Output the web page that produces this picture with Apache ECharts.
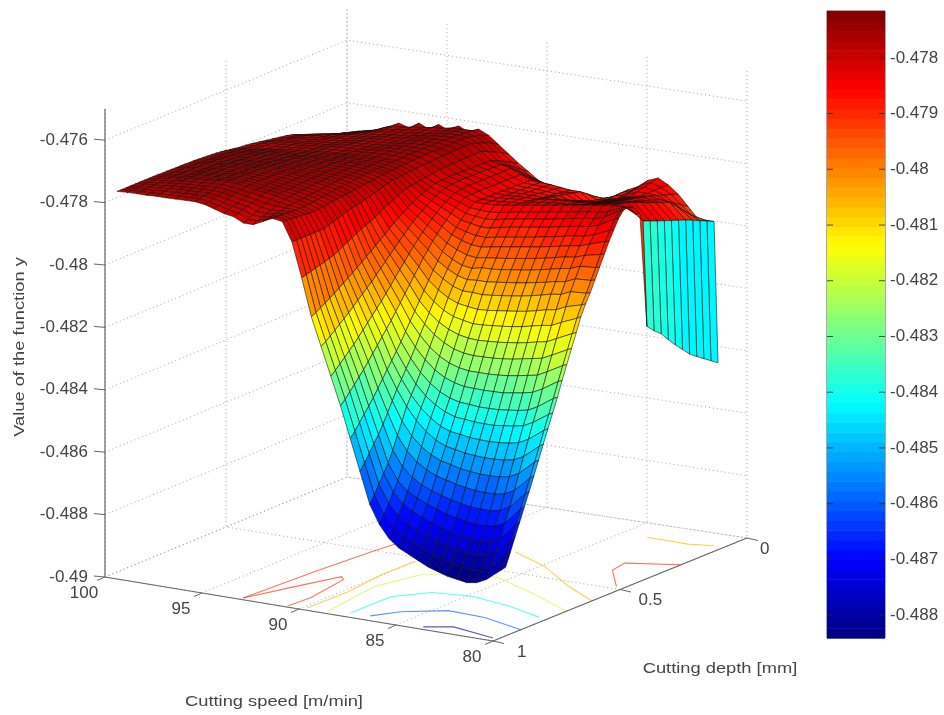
<!DOCTYPE html>
<html><head><meta charset="utf-8">
<style>html,body{margin:0;padding:0;background:#fff}#c{width:944px;height:715px;filter:blur(0.6px)}</style>
<script src="https://cdn.jsdelivr.net/npm/echarts@6/dist/echarts.min.js"></script>
</head><body><div id="c"></div>
<script>
// ---- DATA ----
const speeds=[100,99.5,99,98.5,98,97.5,97,96.5,96,95.5,95,94.5,94,93.5,93,92.5,92,91.5,91,90.5,90,89.5,89,88.5,88,87.5,87,86.5,86,85.5,85,84.5,84,83.5,83,82.5,82,81.5,81,80.2,80];
const depths=[.95,.9315,.913,.8945,.876,.8575,.839,.8205,.802,.7835,.765,.7465,.728,.7095,.691,.6725,.654,.6355,.617,.5985,.58,.5615,.543,.5245,.506,.4875,.469,.45,.422,.394,.366,.338,.31,.282,.254,.226,.198,.17,.142,.114];
// surface heights: one row per speed, one value per depth, as -(0.47 + n/100000)
const zRows=[
[780,780,780,780,780,780,780,780,780,780,781,781,781,782,782,782,783,783,784,785,786,787,788,790,792,795,797,800,802,805,809,813,817,821,825,830,840,850,860,872],
[778,778,777,777,776,776,775,775,775,776,776,777,777,777,778,778,779,780,781,782,783,784,785,787,789,791,794,796,798,800,804,808,813,817,821,825,835,845,855,865],
[777,776,775,774,773,772,771,770,770,771,771,772,772,772,773,773,774,775,776,777,779,780,781,783,785,787,790,792,794,796,800,804,807,811,815,819,828,837,846,855],
[777,775,774,772,771,769,768,766,767,767,768,768,769,769,770,770,771,772,773,775,776,777,778,780,782,784,786,789,791,793,796,800,803,807,810,814,823,832,841,850],
[775,773,771,769,766,764,762,760,761,761,762,763,763,764,764,765,766,768,769,771,772,774,775,777,779,781,783,786,788,790,793,797,800,803,807,810,816,822,829,835],
[775,772,770,767,765,762,760,757,758,758,759,760,760,761,761,762,763,765,766,768,769,771,772,774,776,778,780,782,784,786,789,792,795,799,802,805,811,817,822,828],
[774,771,769,766,763,761,758,755,756,756,757,758,758,759,759,760,761,763,764,766,767,769,770,772,774,776,778,779,781,783,786,789,792,794,797,800,805,810,815,820],
[773,770,767,764,761,758,755,752,753,754,754,755,756,756,757,758,759,761,762,764,765,767,768,770,772,774,775,777,779,780,783,786,788,791,793,796,798,800,802,805],
[772,769,766,763,760,756,753,750,751,751,752,752,753,754,754,755,756,758,759,761,762,764,765,766,768,769,771,772,774,775,778,780,783,785,788,790,791,792,792,790],
[776,773,769,766,762,759,756,752,753,753,753,754,754,754,755,755,756,757,758,760,761,762,763,764,766,767,768,769,771,772,774,777,779,781,784,786,787,788,789,800],
[785,781,777,772,768,764,760,755,755,755,755,755,755,755,755,755,756,757,758,759,760,761,762,763,764,765,766,768,769,770,772,774,776,778,780,782,783,784,784,780],
[795,790,785,780,775,770,765,760,760,759,759,759,758,758,757,757,758,758,759,759,760,760,761,762,763,764,765,766,767,768,770,772,774,775,777,779,780,780,781,795],
[800,795,790,785,780,775,770,765,764,764,763,762,762,761,761,760,760,760,760,760,760,760,760,761,761,762,763,763,764,765,767,769,770,772,773,775,775,775,775,775],
[815,809,802,796,789,783,776,770,769,768,767,766,765,764,763,762,762,762,761,761,761,760,760,760,761,761,761,762,762,762,763,765,766,767,769,770,771,772,773,790],
[815,809,803,798,792,786,781,775,774,772,771,770,769,767,766,765,764,764,763,762,762,761,760,760,760,760,760,760,760,760,761,762,763,763,764,765,766,767,767,770],
[800,797,795,792,790,787,785,782,780,779,777,775,774,773,771,770,769,768,766,765,764,763,762,762,762,761,761,761,760,760,760,761,761,761,762,762,763,764,766,785],
[785,786,786,787,788,789,789,790,788,786,784,782,780,778,776,775,773,772,770,769,768,766,765,764,764,763,762,762,761,760,760,760,760,760,760,760,762,764,766,770],
[790,791,793,794,796,797,799,800,798,796,794,792,790,788,786,785,783,781,779,778,776,774,772,771,770,769,768,767,766,765,764,764,764,763,763,762,765,770,777,785],
[850,850,850,850,850,850,850,850,845,840,835,830,825,820,817,815,810,806,802,797,793,789,785,784,782,781,779,778,776,775,774,773,772,772,771,770,778,786,796,810],
[960,956,952,947,943,939,934,930,922,914,906,898,890,882,876,870,862,854,846,838,831,823,815,812,809,806,804,801,798,795,794,793,792,792,791,790,800,810,822,835],
[1080,1072,1063,1054,1044,1035,1024,1014,1003,993,982,971,959,948,936,924,912,900,888,877,867,857,848,840,832,826,820,815,813,812,812,813,813,814,814,815,825,836,848,860],
[1170,1160,1148,1136,1123,1111,1098,1084,1070,1056,1042,1029,1013,998,982,966,951,935,920,906,892,880,868,858,847,839,832,825,822,820,820,821,821,821,822,822,835,850,866,882],
[1260,1247,1232,1218,1203,1188,1171,1154,1137,1120,1103,1086,1067,1048,1028,1009,990,971,952,935,918,903,888,875,863,852,844,835,832,830,830,830,830,830,830,830,848,866,885,905],
[1350,1335,1317,1300,1282,1264,1244,1224,1204,1183,1163,1143,1120,1098,1075,1052,1029,1007,984,964,943,926,908,893,878,865,855,845,844,843,843,844,844,844,845,845,862,880,897,915],
[1450,1432,1411,1390,1370,1349,1325,1301,1277,1254,1230,1206,1179,1152,1126,1099,1072,1045,1019,995,971,950,929,912,894,879,867,855,855,855,855,856,856,857,857,858,875,893,911,930],
[1550,1529,1505,1480,1456,1429,1398,1366,1335,1309,1281,1254,1224,1192,1162,1132,1102,1071,1041,1015,991,966,942,921,900,883,869,855,855,855,856,857,857,858,859,860,878,898,918,938],
[1650,1626,1598,1570,1543,1507,1466,1426,1385,1355,1325,1294,1259,1225,1191,1157,1125,1091,1060,1032,1005,978,951,928,906,887,871,855,853,852,854,855,857,859,860,862,882,903,924,945],
[1710,1684,1654,1624,1594,1555,1511,1468,1425,1391,1358,1324,1287,1249,1212,1175,1140,1104,1070,1040,1010,982,954,929,905,884,867,850,850,850,853,855,858,861,863,866,888,911,933,955],
[1750,1722,1689,1657,1623,1584,1541,1498,1455,1418,1382,1346,1306,1266,1227,1187,1147,1109,1070,1037,1003,977,948,923,898,877,861,845,848,850,853,857,860,863,867,870,893,915,938,960],
[1775,1745,1710,1676,1640,1603,1561,1519,1478,1439,1399,1361,1318,1276,1235,1193,1153,1113,1072,1037,1002,973,943,918,892,872,856,840,840,840,845,850,855,860,865,870,886,903,919,935],
[1790,1759,1725,1690,1653,1617,1575,1533,1492,1451,1410,1369,1325,1281,1238,1195,1152,1111,1069,1033,999,969,938,913,887,867,851,835,835,835,845,855,865,875,885,895,900,905,910,915],
[1805,1774,1738,1702,1664,1626,1583,1540,1498,1455,1413,1371,1326,1281,1237,1193,1149,1107,1065,1029,994,964,933,908,882,862,846,830,831,832,842,853,863,874,884,895,894,893,891,890],
[1820,1788,1751,1715,1675,1636,1592,1548,1504,1460,1416,1374,1327,1281,1236,1191,1146,1103,1061,1025,990,959,928,903,877,857,841,825,828,830,840,850,860,870,880,890,886,883,879,875],
[1830,1797,1760,1723,1682,1642,1597,1552,1507,1462,1417,1374,1326,1279,1233,1187,1142,1099,1056,1020,985,954,923,897,872,852,836,820,825,830,838,845,853,860,868,875,869,863,856,850],
[1840,1806,1768,1730,1689,1648,1602,1555,1509,1463,1417,1373,1325,1276,1229,1183,1137,1094,1050,1014,979,948,917,891,866,846,831,815,822,830,835,840,845,850,855,860,855,849,844,838],
[1845,1811,1772,1734,1691,1649,1603,1555,1508,1461,1413,1369,1320,1271,1223,1177,1130,1087,1043,1008,972,941,911,885,860,840,826,810,816,822,828,833,839,844,850,855,855,855,855,855],
[1850,1816,1776,1737,1693,1650,1603,1554,1506,1458,1409,1365,1315,1265,1217,1170,1123,1079,1035,1001,965,934,904,879,854,834,820,805,810,815,821,827,833,838,844,850,857,865,872,880],
[1845,1810,1771,1731,1687,1644,1597,1548,1500,1451,1403,1359,1308,1259,1211,1164,1118,1074,1031,996,960,930,900,875,850,831,817,800,805,810,818,825,833,840,848,855,870,885,900,915],
[1830,1795,1756,1716,1672,1629,1581,1532,1484,1435,1387,1343,1292,1243,1196,1149,1103,1059,1017,982,948,919,889,865,841,822,809,795,800,805,814,823,833,842,851,860,882,905,927,950],
[1790,1748,1706,1663,1620,1577,1533,1488,1443,1398,1353,1308,1260,1215,1170,1125,1082,1045,1014,979,944,908,873,843,813,793,788,795,825,856,865,874,883,891,900,908,918,929,939,950],
[1780,1738,1695,1653,1610,1568,1524,1480,1435,1391,1347,1303,1255,1210,1165,1120,1075,1040,1010,975,940,905,870,840,810,790,785,790,820,1192,1215,1234,1262,1288,1312,1336,1353,1369,1385,1401]
];
// cell values of the cyan drop at the last speed step (depth index 29..38)
const cliffColorZ=[-.4837,-.4838,-.4839,-.484,-.4841,-.4842,-.4842,-.4842,-.4842,-.4842];
// floor contours: level, then [speed, depth] vertices
const contourLevels=[-.479,-.479,-.4805,-.4805,-.482,-.484,-.486,-.488,-.479,-.4805];
const contourSpeeds=[
[93.04,92.78,92.46,92.26],
[93.04,92.18,91.34,91.0,90.58,90.68],
[89.8,89.74,90.04,90],
[87.22,84.78,82.24,80.02],
[88.77,89.24,88.58,87,85.62,82.74,80],
[87.76,87.72,86.6,84.77,82.52,80.43],
[86.76,86.02,84.37,82.42,80],
[83.83,82.72,80.27],
[80,82.2,82,80.4],
[83.7,81.6,80.5]];
const contourDepths=[
[.987,.719,.509,.422],
[.987,.85,.723,.742,.908,.99],
[.983,.822,.662,.53],
[.351,.423,.532,.61],
[.971,.756,.614,.564,.55,.628,.71],
[.968,.807,.731,.713,.74,.784],
[.966,.902,.84,.847,.89],
[.982,.947,.979],
[.26,.31,.374,.483],
[.103,.107,.09]];
const speedTicks=[100,95,90,85,80];
const depthTicks=[0,.5,1];
const zTicks=[-.49,-.488,-.486,-.484,-.482,-.48,-.478,-.476];
const zTop=-.475;
const colorTicks=[-.488,-.487,-.486,-.485,-.484,-.483,-.482,-.481,-.48,-.479,-.478];
const colorMin=-.48841,colorMax=-.47716;
const texts={zTitle:'Value of the function y',speedTitle:'Cutting speed [m/min]',depthTitle:'Cutting depth [mm]'};

// ---- VIEW ----
const zVal=n=>-(0.47+n/100000);
function floorXY(s,d,z){const u=(100-s)/20,w=1-d;
  return [105+388*u+242*w+12*u*w, 577+64*u-100*w-3*u*w-(z+.49)*31200];}
function jet(t){const n=64;let k=Math.floor(Math.max(0,Math.min(.9999,t))*n);const v=(k+.5)/n;
  const f=c=>Math.round(255*Math.max(0,Math.min(1,1.5-Math.abs(4*v-c))));
  return `rgb(${f(3)},${f(2)},${f(1)})`;}
const zColor=z=>jet((z-colorMin)/(colorMax-colorMin));
const pt=(api,s,d,z)=>api.coord(floorXY(s,d,z));

// facets drawn far to near
const cells=[];
for(let i=0;i<speeds.length-1;i++)for(let j=depths.length-2;j>=0;j--)cells.push([i,j]);
function renderCell(p,api){
  const i=api.value(0),j=api.value(1);
  const c=[[i,j],[i+1,j],[i+1,j+1],[i,j+1]];
  const zs=c.map(q=>zVal(zRows[q[0]][q[1]]));
  let cz=(zs[0]+zs[1]+zs[2]+zs[3])/4;
  if(i===speeds.length-2&&j>=29)cz=cliffColorZ[j-29];
  return {type:'polygon',shape:{points:c.map((q,k)=>pt(api,speeds[q[0]],depths[q[1]],zs[k]))},
    style:{fill:zColor(cz),stroke:'rgba(15,10,10,.7)',lineWidth:.8}};
}
// dotted grid on the floor and the two back walls
const gridSegs=[];
const sMax=speeds[0],sMin=80,dNear=1,dBack=0,zF=zTicks[0];
speedTicks.forEach(s=>{gridSegs.push([[s,dNear,zF],[s,dBack,zF],[s,dBack,zTop]]);});
depthTicks.forEach(d=>{gridSegs.push([[sMin,d,zF],[sMax,d,zF],[sMax,d,zTop]]);});
zTicks.forEach(z=>{gridSegs.push([[sMax,dNear,z],[sMax,dBack,z],[sMin,dBack,z]]);});
// solid axes with their ticks
const axisSegs=[[[sMax,dNear,zF],[sMin,dNear,zF]],[[sMin,dNear,zF],[sMin,dBack,zF]],[[sMax,dNear,zF],[sMax,dNear,zTop]]];
const pixText=[];
speedTicks.forEach(s=>pixText.push({p:[s,dNear,zF],dx:-21,dy:16,t:String(s),a:'center'}));
depthTicks.forEach(d=>pixText.push({p:[sMin,d,zF],dx:24-11*(1-d),dy:11,t:String(d),a:'left'}));
zTicks.forEach(z=>pixText.push({p:[sMax,dNear,z],dx:-17,dy:0,t:String(z),a:'right'}));

const poly=(pts,api,style)=>({type:'polyline',shape:{points:pts.map(q=>pt(api,q[0],q[1],q[2]))},style:Object.assign({fill:null},style)});
const idx=a=>a.map((_,i)=>[i,0]);
const base={type:'custom',coordinateSystem:'cartesian2d',xAxisIndex:0,yAxisIndex:0,silent:true,clip:false,animation:false,progressive:0};
const tickSegs=[];
speedTicks.forEach(s=>tickSegs.push({p:[s,dNear,zF],dx:-8,dy:3.5}));
depthTicks.forEach(d=>tickSegs.push({p:[sMin,d,zF],dx:11,dy:2.5}));
zTicks.forEach(z=>tickSegs.push({p:[sMax,dNear,z],dx:-11,dy:-1}));

const colorCells=[];for(let i=0;i<64;i++)colorCells.push([colorMin+(colorMax-colorMin)*i/64,colorMin+(colorMax-colorMin)*(i+1)/64,i]);
const gridB={type:'custom',coordinateSystem:'cartesian2d',xAxisIndex:1,yAxisIndex:1,silent:true,clip:false,animation:false,progressive:0};

const chart=echarts.init(document.getElementById('c'),null,{renderer:'canvas'});
chart.setOption({
 animation:false,backgroundColor:'#fff',
 grid:[{left:0,top:0,width:944,height:715,show:false},
       {left:827,top:11,width:58,height:627,show:true,borderColor:'#555',borderWidth:1}],
 xAxis:[{type:'value',min:0,max:944,show:false,gridIndex:0},{type:'value',min:0,max:1,show:false,gridIndex:1}],
 yAxis:[{type:'value',min:0,max:715,inverse:true,show:false,gridIndex:0},
  {type:'value',gridIndex:1,min:colorMin,max:colorMax,position:'right',scale:true,splitLine:{show:false},
   axisLine:{show:true,lineStyle:{color:'#555'}},axisTick:{show:false},
   axisLabel:{show:true,customValues:colorTicks,margin:5,color:'#444',fontFamily:'Liberation Sans',fontSize:17,formatter:v=>String(v)}}],
 series:[
  Object.assign({},base,{name:'grid',data:idx(gridSegs),renderItem:(p,api)=>poly(gridSegs[api.value(0)],api,{stroke:'#a4a4a4',lineWidth:1,lineDash:[1,3]})}),
  Object.assign({},base,{name:'contours',data:idx(contourSpeeds),renderItem:(p,api)=>{const k=api.value(0);
    return poly(contourSpeeds[k].map((s,m)=>[s,contourDepths[k][m],zF]),api,{stroke:zColor(contourLevels[k]),lineWidth:1.1,opacity:.65});}}),
  Object.assign({},base,{name:'axes',data:idx(axisSegs),renderItem:(p,api)=>poly(axisSegs[api.value(0)],api,{stroke:'#666',lineWidth:1.2})}),
  Object.assign({},base,{name:'ticks',data:idx(tickSegs),renderItem:(p,api)=>{const t=tickSegs[api.value(0)],a=pt(api,t.p[0],t.p[1],t.p[2]);
    return {type:'line',shape:{x1:a[0],y1:a[1],x2:a[0]+t.dx,y2:a[1]+t.dy},style:{stroke:'#666',lineWidth:1}};}}),
  Object.assign({},base,{name:'surface',data:cells,renderItem:renderCell}),
  Object.assign({},base,{name:'tickLabels',data:idx(pixText),renderItem:(p,api)=>{const t=pixText[api.value(0)],a=pt(api,t.p[0],t.p[1],t.p[2]);
    return {type:'text',style:{x:a[0]+t.dx,y:a[1]+t.dy,text:t.t,align:t.a,verticalAlign:'middle',fill:'#444',font:'17px "Liberation Sans"'}};}}),
  Object.assign({},base,{name:'titles',data:[[20,347,0],[274,702,1],[720,669,2]],renderItem:(p,api)=>{const k=api.value(2),c=api.coord([api.value(0),api.value(1)]);
    const t=[texts.zTitle,texts.speedTitle,texts.depthTitle][k];
    return {type:'text',x:c[0],y:c[1],scaleX:1.18,rotation:k===0?Math.PI/2:0,style:{x:0,y:0,text:t,align:'center',verticalAlign:'middle',fill:'#444',font:'15.5px "Liberation Sans"'}};}}),
  Object.assign({},gridB,{name:'colorbar',z:1,data:colorCells,encode:{y:[0,1]},renderItem:(p,api)=>{const a=api.coord([0,api.value(0)]),b=api.coord([1,api.value(1)]);
    return {type:'rect',shape:{x:a[0],y:b[1],width:b[0]-a[0],height:a[1]-b[1]+.5},style:{fill:jet((api.value(2)+.5)/64)}};}}),
  Object.assign({},gridB,{name:'colorbarTicks',z:3,data:colorTicks.map(v=>[0,v]),renderItem:(p,api)=>{const a=api.coord([0,api.value(1)]),b=api.coord([1,api.value(1)]);
    return {type:'group',children:[{type:'line',shape:{x1:a[0],y1:a[1],x2:a[0]+6,y2:a[1]},style:{stroke:'rgba(40,40,40,.8)',lineWidth:1}},
      {type:'line',shape:{x1:b[0]-6,y1:b[1],x2:b[0],y2:b[1]},style:{stroke:'rgba(40,40,40,.8)',lineWidth:1}}]};}})
 ]
});
</script></body></html>
